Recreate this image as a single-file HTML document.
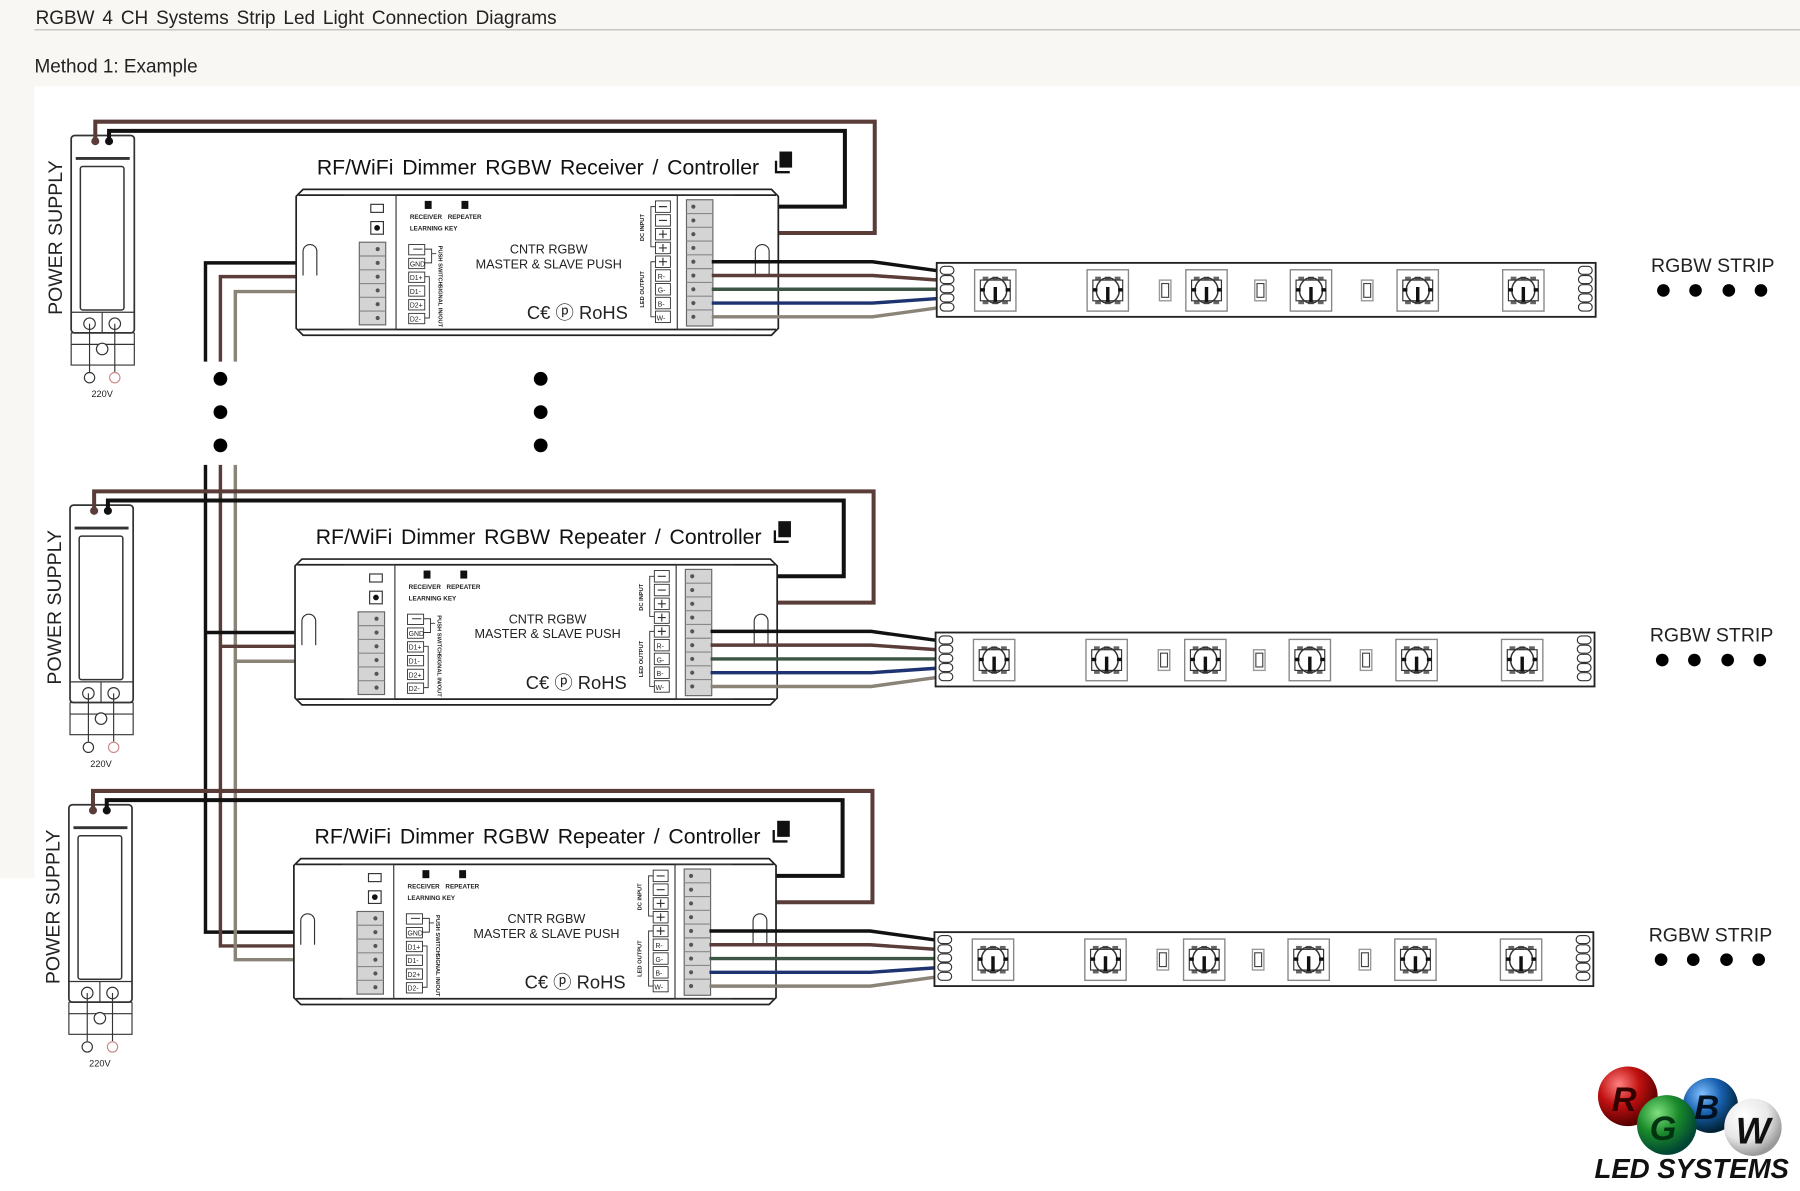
<!DOCTYPE html>
<html><head><meta charset="utf-8"><style>
html,body{margin:0;padding:0;background:#fff;}
svg{display:block;}
text{font-family:"Liberation Sans",sans-serif;}
</style></head><body>
<svg width="1800" height="1191" viewBox="0 0 1568 1037.5" preserveAspectRatio="none" xmlns="http://www.w3.org/2000/svg">
<defs>
<g id="led">
<rect x="-18" y="-18" width="36" height="36" fill="#fff" stroke="#888" stroke-width="1.2"/>
<rect x="-11" y="-12" width="5" height="3" fill="#666"/><rect x="-2.5" y="-12" width="5" height="3" fill="#666"/><rect x="6" y="-12" width="5" height="3" fill="#666"/>
<rect x="-11" y="9" width="5" height="3" fill="#666"/><rect x="-2.5" y="9" width="5" height="3" fill="#666"/><rect x="6" y="9" width="5" height="3" fill="#666"/>
<ellipse cx="0" cy="0" rx="10" ry="11" fill="none" stroke="#333" stroke-width="1.3"/>
<rect x="-13" y="-9" width="26" height="18" fill="none" stroke="#333" stroke-width="1"/>
<rect x="-1.5" y="-3" width="3" height="13" fill="#111"/>
<rect x="-13" y="-2" width="4" height="3" fill="#111"/><rect x="9" y="-2" width="4" height="3" fill="#111"/>
</g>
<g id="res">
<rect x="-5" y="-9" width="10" height="18" fill="none" stroke="#999" stroke-width="1.2"/>
<rect x="-3" y="-6" width="6" height="12" fill="none" stroke="#444" stroke-width="1"/>
</g>
<g id="unit" fill="none">
<rect x="62" y="118" width="55" height="172" rx="3" fill="#fff" stroke="#333" stroke-width="1.5"/>
<line x1="66" y1="138" x2="113" y2="138" stroke="#333" stroke-width="2.5"/>
<rect x="70" y="145" width="38" height="125" rx="2" stroke="#333" stroke-width="1.3"/>
<line x1="62" y1="272" x2="117" y2="272" stroke="#333"/>
<line x1="62" y1="290" x2="117" y2="290" stroke="#333"/>
<line x1="89" y1="272" x2="89" y2="290" stroke="#333"/>
<circle cx="78" cy="282" r="5" stroke="#333"/><circle cx="100" cy="282" r="5" stroke="#333"/>
<path d="M62 300 H117 M62 290 V318 H117 V290" stroke="#333"/>
<line x1="78" y1="282" x2="78" y2="324" stroke="#333"/>
<line x1="100" y1="282" x2="100" y2="324" stroke="#333"/>
<circle cx="89" cy="304" r="5" fill="#fff" stroke="#333"/>
<circle cx="78" cy="329" r="4.5" stroke="#333"/><circle cx="100" cy="329" r="4.5" stroke="#c88"/>
<path d="M83 124 V106 H762 V203 H620" stroke="#5a3d38" stroke-width="3.5"/>
<path d="M95 124 V114 H736 V180 H620" stroke="#111" stroke-width="3.5"/>
<circle cx="83" cy="123" r="3.5" fill="#5a3d38"/><circle cx="95" cy="123" r="3.5" fill="#111"/>
<path d="M264 165 H672 L678 171 V286 L672 292 H264 L258 286 V171 Z" fill="#fff" stroke="#222" stroke-width="1.5"/>
<line x1="260" y1="170" x2="676" y2="170" stroke="#222" stroke-width="1.5"/>
<line x1="260" y1="287" x2="676" y2="287" stroke="#222" stroke-width="1.5"/>
<path d="M300 170 H345 V287 H300" stroke="#333"/>
<path d="M640 170 H590 V287 H640" stroke="#333"/>
<path d="M264 240 V219 A6 6 0 0 1 276 219 V240" stroke="#333"/>
<path d="M658 240 V219 A6 6 0 0 1 670 219 V240" stroke="#333"/>
<rect x="323" y="178" width="11" height="7" stroke="#333"/>
<rect x="323" y="193" width="11" height="11" stroke="#333"/><circle cx="328.5" cy="198.5" r="2.5" fill="#111"/>
<rect x="313" y="211" width="23" height="72" fill="#d4d4d4" stroke="#666"/>
<path d="M313 223H336M313 235H336M313 247H336M313 259H336M313 271H336" stroke="#888"/>
<g fill="#555"><circle cx="329" cy="217" r="1.8"/><circle cx="329" cy="229" r="1.8"/><circle cx="329" cy="241" r="1.8"/><circle cx="329" cy="253" r="1.8"/><circle cx="329" cy="265" r="1.8"/><circle cx="329" cy="277" r="1.8"/></g>
<rect x="598" y="174" width="23" height="110" fill="#d4d4d4" stroke="#666"/>
<path d="M598 186H621M598 198H621M598 210H621M598 222H621M598 234H621M598 246H621M598 258H621M598 270H621" stroke="#888"/>
<g fill="#555"><circle cx="604" cy="180" r="1.8"/><circle cx="604" cy="192" r="1.8"/><circle cx="604" cy="204" r="1.8"/><circle cx="604" cy="216" r="1.8"/><circle cx="604" cy="228" r="1.8"/><circle cx="604" cy="240" r="1.8"/><circle cx="604" cy="252" r="1.8"/><circle cx="604" cy="264" r="1.8"/><circle cx="604" cy="276" r="1.8"/></g>
<g stroke="#333" stroke-width="0.8">
<rect x="571" y="175" width="13" height="10"/><rect x="571" y="187" width="13" height="10"/><rect x="571" y="199" width="13" height="10"/><rect x="571" y="211" width="13" height="10"/>
<rect x="571" y="223" width="13" height="10"/><rect x="571" y="235" width="13" height="10"/><rect x="571" y="247" width="13" height="10"/><rect x="571" y="259" width="13" height="10"/><rect x="571" y="271" width="13" height="10"/>
<path d="M571 180 H567 V215 H571 M571 228 H567 V276 H571"/>
<path d="M574 180H581M574 192H581M574 204H581M577.5 200.5V207.5M574 216H581M577.5 212.5V219.5M574 228H581M577.5 224.5V231.5" stroke-width="1"/>
<rect x="356" y="213" width="14" height="9"/><rect x="356" y="225" width="14" height="9"/>
<rect x="356" y="237" width="14" height="9"/><rect x="356" y="249" width="14" height="9"/><rect x="356" y="261" width="14" height="9"/><rect x="356" y="273" width="14" height="9"/>
<path d="M370 241 H374 V277 H370"/>
<path d="M360 217 H368 M370 217 H376 V224 M370 229 H376 V224 M376 221 H380"/>
</g>
<rect x="370" y="175" width="6" height="7" fill="#111"/><rect x="402" y="175" width="6" height="7" fill="#111"/>
<path d="M620 228 H760 L818 236" stroke="#111" stroke-width="3"/>
<path d="M620 240 H760 L818 244" stroke="#5a3d38" stroke-width="3"/>
<path d="M620 252 H760 L818 252" stroke="#3d5544" stroke-width="3"/>
<path d="M620 264 H760 L818 260" stroke="#1e3470" stroke-width="3"/>
<path d="M620 276 H760 L818 268" stroke="#8a8478" stroke-width="3"/>
<rect x="816" y="229" width="574" height="47" fill="#fff" stroke="#222" stroke-width="1.6"/>
<g stroke="#333" fill="#fff">
<rect x="819" y="232" width="12" height="7" rx="3.5"/><rect x="819" y="240" width="12" height="7" rx="3.5"/><rect x="819" y="248" width="12" height="7" rx="3.5"/><rect x="819" y="256" width="12" height="7" rx="3.5"/><rect x="819" y="264" width="12" height="7" rx="3.5"/>
<rect x="1375" y="232" width="12" height="7" rx="3.5"/><rect x="1375" y="240" width="12" height="7" rx="3.5"/><rect x="1375" y="248" width="12" height="7" rx="3.5"/><rect x="1375" y="256" width="12" height="7" rx="3.5"/><rect x="1375" y="264" width="12" height="7" rx="3.5"/>
</g>
<use href="#led" x="867" y="253"/><use href="#led" x="965" y="253"/><use href="#led" x="1051" y="253"/><use href="#led" x="1142" y="253"/><use href="#led" x="1235" y="253"/><use href="#led" x="1327" y="253"/>
<use href="#res" x="1015" y="253"/><use href="#res" x="1098" y="253"/><use href="#res" x="1191" y="253"/>
<g fill="#000"><circle cx="1449" cy="253" r="5.5"/><circle cx="1477" cy="253" r="5.5"/><circle cx="1506" cy="253" r="5.5"/><circle cx="1534" cy="253" r="5.5"/></g>
<rect x="679" y="132" width="11" height="14" fill="#111"/><path d="M676 140 V150 H688" stroke="#111" stroke-width="2"/>
</g>
</defs>

<rect x="0" y="0" width="1568" height="1038" fill="#fff"/>
<rect x="0" y="0" width="1568" height="75" fill="#f8f7f3"/>
<rect x="0" y="0" width="30" height="765" fill="#f8f7f3"/>
<line x1="30" y1="26" x2="1568" y2="26" stroke="#b5b5b5" stroke-width="1"/>
<text x="31" y="21" font-size="16.5" fill="#222" word-spacing="2.3">RGBW 4 CH Systems Strip Led Light Connection Diagrams</text>
<text x="30" y="63" font-size="16.5" fill="#222">Method 1: Example</text>

<path d="M313 229 H179 V315 M179 405 V812 H313" fill="none" stroke="#111" stroke-width="3"/>
<path d="M313 241 H192 V315 M192 405 V824 H313" fill="none" stroke="#5a3d38" stroke-width="3"/>
<path d="M313 254 H205 V315 M205 405 V836 H313" fill="none" stroke="#8a8478" stroke-width="3"/>
<path d="M179 551 H313" stroke="#111" stroke-width="3"/>
<path d="M192 563 H313" stroke="#5a3d38" stroke-width="3"/>
<path d="M205 576 H313" stroke="#8a8478" stroke-width="3"/>
<g fill="#000"><circle cx="192" cy="330" r="6"/><circle cx="192" cy="359" r="6"/><circle cx="192" cy="388" r="6"/><circle cx="471" cy="330" r="6"/><circle cx="471" cy="359" r="6"/><circle cx="471" cy="388" r="6"/></g>

<use href="#unit" x="0" y="0"/>
<use href="#unit" x="-1" y="322"/>
<use href="#unit" x="-2" y="583"/>

<g font-size="8" fill="#222" text-anchor="middle">
<text x="89" y="346">220V</text><text x="88" y="668">220V</text><text x="87" y="929">220V</text>
</g>
<g font-size="17" fill="#222" text-anchor="middle">
<text transform="translate(54,207) rotate(-90)">POWER SUPPLY</text>
<text transform="translate(53,529) rotate(-90)">POWER SUPPLY</text>
<text transform="translate(52,790) rotate(-90)">POWER SUPPLY</text>
<text x="1492" y="237">RGBW STRIP</text><text x="1491" y="559">RGBW STRIP</text><text x="1490" y="820">RGBW STRIP</text>
</g>
<g font-size="18.5" fill="#111" word-spacing="2.5">
<text x="276" y="152">RF/WiFi Dimmer RGBW Receiver / Controller</text>
<text x="275" y="474">RF/WiFi Dimmer RGBW Repeater / Controller</text>
<text x="274" y="735">RF/WiFi Dimmer RGBW Repeater / Controller</text>
</g>
<g font-size="11" fill="#222" text-anchor="middle">
<text x="478" y="221">CNTR RGBW</text><text x="478" y="234">MASTER &amp; SLAVE PUSH</text>
<text x="477" y="543">CNTR RGBW</text><text x="477" y="556">MASTER &amp; SLAVE PUSH</text>
<text x="476" y="804">CNTR RGBW</text><text x="476" y="817">MASTER &amp; SLAVE PUSH</text>
</g>
<g font-size="16" fill="#222">
<text x="459" y="278">C€ ⓟ RoHS</text><text x="458" y="600">C€ ⓟ RoHS</text><text x="457" y="861">C€ ⓟ RoHS</text>
</g>
<g font-size="5.5" fill="#222" font-weight="bold">
<text x="357" y="191">RECEIVER</text><text x="390" y="191">REPEATER</text><text x="357" y="201">LEARNING KEY</text>
<text x="356" y="513">RECEIVER</text><text x="389" y="513">REPEATER</text><text x="356" y="523">LEARNING KEY</text>
<text x="355" y="774">RECEIVER</text><text x="388" y="774">REPEATER</text><text x="355" y="784">LEARNING KEY</text>
</g>
<g font-size="6" fill="#222">
<text x="357" y="232">GND</text><text x="357" y="244">D1+</text><text x="357" y="256">D1-</text><text x="357" y="268">D2+</text><text x="357" y="280">D2-</text>
<text x="356" y="554">GND</text><text x="356" y="566">D1+</text><text x="356" y="578">D1-</text><text x="356" y="590">D2+</text><text x="356" y="602">D2-</text>
<text x="355" y="815">GND</text><text x="355" y="827">D1+</text><text x="355" y="839">D1-</text><text x="355" y="851">D2+</text><text x="355" y="863">D2-</text>
<text x="573" y="243">R-</text><text x="573" y="255">G-</text><text x="573" y="267">B-</text><text x="572" y="279">W-</text>
<text x="572" y="565">R-</text><text x="572" y="577">G-</text><text x="572" y="589">B-</text><text x="571" y="601">W-</text>
<text x="571" y="826">R-</text><text x="571" y="838">G-</text><text x="571" y="850">B-</text><text x="570" y="862">W-</text>
</g>
<g font-size="5" fill="#222" font-weight="bold">
<text transform="translate(561,210) rotate(-90)">DC INPUT</text><text transform="translate(561,268) rotate(-90)">LED OUTPUT</text>
<text transform="translate(560,532) rotate(-90)">DC INPUT</text><text transform="translate(560,590) rotate(-90)">LED OUTPUT</text>
<text transform="translate(559,793) rotate(-90)">DC INPUT</text><text transform="translate(559,851) rotate(-90)">LED OUTPUT</text>
<text transform="translate(382,214) rotate(90)">PUSH SWITCH</text><text transform="translate(382,248) rotate(90)">SIGNAL IN/OUT</text>
<text transform="translate(381,536) rotate(90)">PUSH SWITCH</text><text transform="translate(381,570) rotate(90)">SIGNAL IN/OUT</text>
<text transform="translate(380,797) rotate(90)">PUSH SWITCH</text><text transform="translate(380,831) rotate(90)">SIGNAL IN/OUT</text>
</g>

<defs>
<radialGradient id="gr" cx="35%" cy="30%" r="70%"><stop offset="0" stop-color="#ff8080"/><stop offset="0.5" stop-color="#c01010"/><stop offset="1" stop-color="#500"/></radialGradient>
<radialGradient id="gg" cx="35%" cy="30%" r="70%"><stop offset="0" stop-color="#80e080"/><stop offset="0.5" stop-color="#1a8a2a"/><stop offset="1" stop-color="#043"/></radialGradient>
<radialGradient id="gb" cx="35%" cy="30%" r="70%"><stop offset="0" stop-color="#80c0ff"/><stop offset="0.5" stop-color="#1860b0"/><stop offset="1" stop-color="#023"/></radialGradient>
<radialGradient id="gw" cx="35%" cy="30%" r="70%"><stop offset="0" stop-color="#fff"/><stop offset="0.6" stop-color="#e8e8e8"/><stop offset="1" stop-color="#999"/></radialGradient>
</defs>
<circle cx="1418" cy="955" r="26" fill="url(#gr)"/>
<circle cx="1490" cy="963" r="24" fill="url(#gb)"/>
<circle cx="1452" cy="980" r="26" fill="url(#gg)"/>
<circle cx="1527" cy="982" r="25" fill="url(#gw)"/>
<g font-family="Liberation Sans" font-weight="bold" font-style="italic" fill="#111">
<text x="1404" y="968" font-size="30" fill="#300">R</text>
<text x="1437" y="993" font-size="30" fill="#031">G</text>
<text x="1476" y="975" font-size="30" fill="#012">B</text>
<text x="1512" y="996" font-size="32">W</text>
<text x="1389" y="1026" font-size="24">LED SYSTEMS</text>
</g>
</svg>
</body></html>
